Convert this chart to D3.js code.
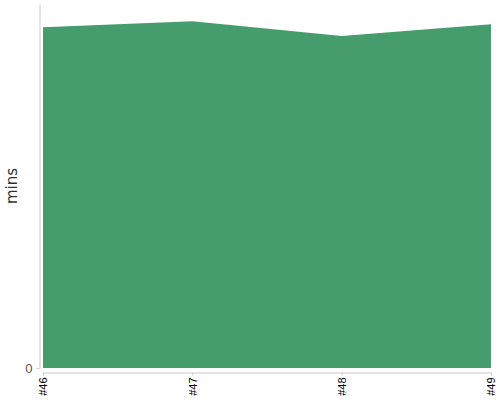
<!DOCTYPE html>
<html>
<head>
<meta charset="utf-8">
<script src="https://cdn.jsdelivr.net/npm/d3@7"></script>
<style>
  body { margin: 0; background: #fff; }
  svg { display: block; font-family: "DejaVu Sans", sans-serif; }
</style>
</head>
<body>
<div id="chart"></div>
<script>
  // build labels and minutes per build
  const builds = ['#46', '#47', '#48', '#49'];
  const mins = [93.7, 95.3, 91.3, 94.5];
  const yTicks = [0];

  const width = 500, height = 400;
  const margin = { top: 4, right: 9, bottom: 32, left: 43 };
  const innerWidth = width - margin.left - margin.right;
  const innerHeight = height - margin.top - margin.bottom;

  const svg = d3.select('#chart').append('svg')
    .attr('width', width)
    .attr('height', height);

  const g = svg.append('g')
    .attr('transform', `translate(${margin.left},${margin.top})`);

  const x = d3.scalePoint()
    .domain(builds)
    .range([0, innerWidth]);

  const y = d3.scaleLinear()
    .domain([0, d3.max(mins) * 1.05])
    .range([innerHeight, 0]);

  const data = builds.map((b, i) => ({ build: b, value: mins[i] }));

  const area = d3.area()
    .x(d => x(d.build))
    .y0(y(0))
    .y1(d => y(d.value));

  g.append('path')
    .datum(data)
    .attr('d', area)
    .attr('fill', '#459c6d');

  // y axis, pushed a bit to the left
  const yAxisG = g.append('g')
    .attr('transform', 'translate(-3.5,0)')
    .call(d3.axisLeft(y).tickValues(yTicks).tickSize(3).tickSizeOuter(0));
  yAxisG.select('.domain').attr('stroke', '#c8c8c8');
  yAxisG.selectAll('.tick line').attr('stroke', '#c8c8c8');
  yAxisG.selectAll('.tick text')
    .attr('fill', '#555')
    .attr('font-size', 13)
    .attr('x', -7);

  // x axis, pushed a bit down
  const xAxisG = g.append('g')
    .attr('transform', `translate(0,${innerHeight + 4.5})`)
    .call(d3.axisBottom(x).tickSize(3).tickSizeOuter(0));
  xAxisG.select('.domain').attr('stroke', '#c8c8c8');
  xAxisG.selectAll('.tick line').attr('stroke', '#c8c8c8');
  xAxisG.selectAll('.tick text')
    .attr('fill', '#000')
    .attr('font-size', 11)
    .attr('transform', 'rotate(-90)')
    .attr('text-anchor', 'end')
    .attr('x', -5)
    .attr('y', 0)
    .attr('dy', '0.35em');

  svg.append('text')
    .attr('transform', `translate(17,186) rotate(-90)`)
    .attr('text-anchor', 'middle')
    .attr('fill', '#333')
    .attr('font-size', 15)
    .text('mins');
</script>
</body>
</html>
